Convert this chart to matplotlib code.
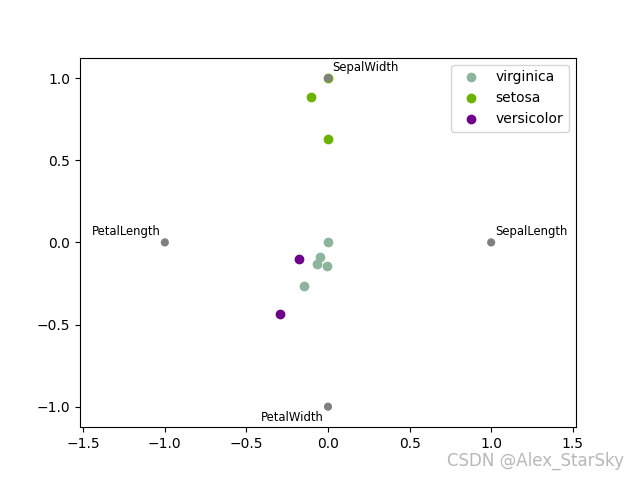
import numpy as np
import matplotlib.pyplot as plt
from matplotlib.patches import Circle
from matplotlib.ticker import MultipleLocator

# radviz projected positions
virginica_x = [0.0, -0.047, -0.065, -0.004, -0.145]
virginica_y = [0.0, -0.090, -0.130, -0.146, -0.264]
setosa_x = [0.0, -0.104, 0.0]
setosa_y = [1.0, 0.888, 0.632]
versicolor_x = [-0.176, -0.292]
versicolor_y = [-0.100, -0.435]

anchor_names = ['SepalLength', 'SepalWidth', 'PetalLength', 'PetalWidth']

# anchors spaced evenly on the unit circle, like pandas radviz
t = 2.0 * np.pi * np.arange(len(anchor_names)) / len(anchor_names)
anchor_x = np.cos(t)
anchor_y = np.sin(t)

fig, ax = plt.subplots(figsize=(6.4, 4.8), dpi=100)

ax.scatter(virginica_x, virginica_y, color='#8db59b', label='virginica')
ax.scatter(setosa_x, setosa_y, color='#6ab400', label='setosa')
ax.scatter(versicolor_x, versicolor_y, color='#6e008c', label='versicolor')

for name, x, y in zip(anchor_names, anchor_x, anchor_y):
    ax.add_patch(Circle((x, y), radius=0.025, facecolor='gray'))
    if x < 0 and y < 0:
        ax.text(x - 0.025, y - 0.025, name, ha='right', va='top', size='small')
    elif x < 0 and y >= 0:
        ax.text(x - 0.025, y + 0.025, name, ha='right', va='bottom', size='small')
    elif y < 0:
        ax.text(x + 0.025, y - 0.025, name, ha='left', va='top', size='small')
    else:
        ax.text(x + 0.025, y + 0.025, name, ha='left', va='bottom', size='small')

ax.set_xlim(-1.52, 1.52)
ax.set_ylim(-1.125, 1.125)
ax.yaxis.set_major_locator(MultipleLocator(0.5))
ax.legend(loc='upper right')

fig.text(0.975, 0.04, 'CSDN @Alex_StarSky', ha='right', va='center',
         color='#b8b8b8', fontsize=12, family='Liberation Sans Narrow')

plt.savefig('out.png', dpi=100)
